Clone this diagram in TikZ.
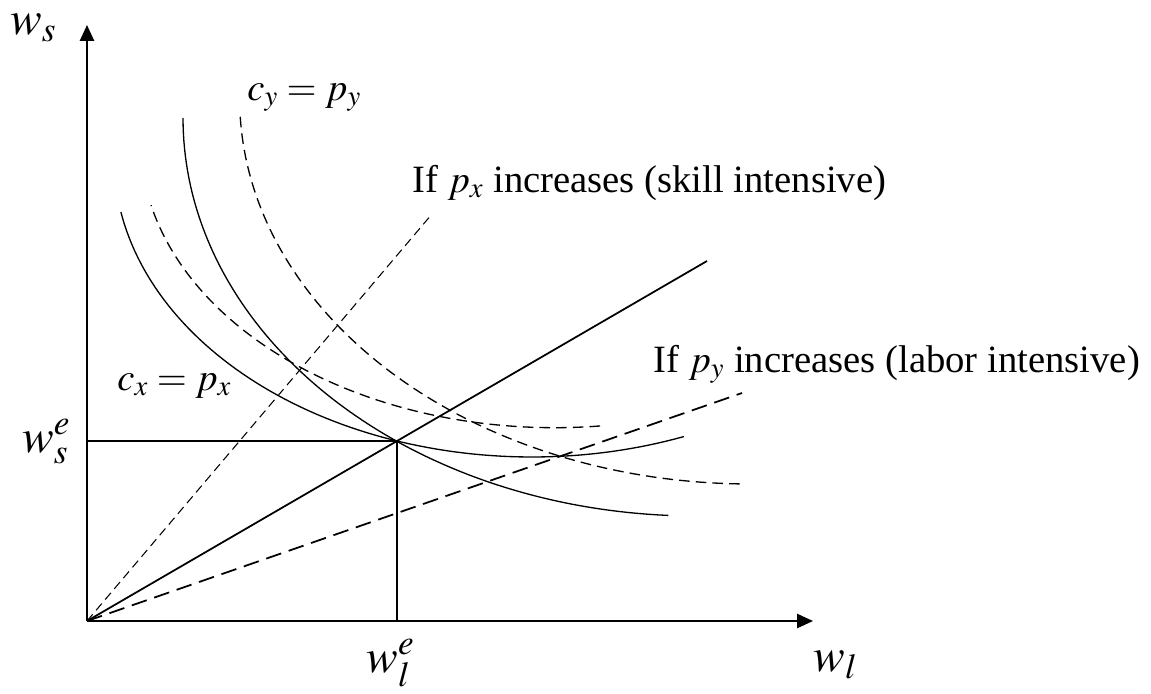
\documentclass[tikz,border=0pt]{standalone}
\usepackage{mathptmx}
\usepackage{fontspec}
\setmainfont{Liberation Serif}
\usetikzlibrary{arrows.meta}

\begin{document}
\begin{tikzpicture}[x=0.02cm, y=-0.02cm,
  axis/.style={line width=1.1pt, -{Triangle[length=9pt, width=8pt]}},
  guide/.style={line width=0.9pt},
  curve/.style={line width=0.75pt},
  shifted/.style={line width=0.75pt, dash pattern=on 6pt off 3.5pt},
  ray/.style={line width=1pt},
  skillray/.style={line width=0.6pt, dash pattern=on 5pt off 3pt},
  laborray/.style={line width=1pt, dash pattern=on 9pt off 4.5pt},
  axlabel/.style={font=\fontsize{27}{31}\selectfont, inner sep=0pt, anchor=base west,
                  text height=1.3ex, text depth=0.2ex},
  curvelabel/.style={font=\fontsize{22}{26}\selectfont, inner sep=0pt, anchor=base west},
  note/.style={font=\fontsize{22}{26}\selectfont, inner sep=0pt, anchor=base west}
]
  \useasboundingbox (0,0) rectangle (1151,693);

  % axes and equilibrium
  \coordinate (O)    at (87,621);
  \coordinate (ytop) at (87,25);
  \coordinate (xend) at (813,621);
  \coordinate (E)    at (397,441);
  \coordinate (Ey)   at (87,441);
  \coordinate (Ex)   at (397,621);
  \coordinate (rayend)   at (707,261);
  \coordinate (skillend) at (432,214);
  \coordinate (laborend) at (742,393);

  \draw[axis] (O) -- (ytop);
  \draw[axis] (O) -- (xend);
  \draw[guide] (Ey) -- (E) -- (Ex);

  % factor intensity rays
  \draw[ray] (O) -- (rayend);
  \draw[skillray] (O) -- (skillend);
  \draw[laborray] (O) -- (laborend);

  % unit cost curves (elliptic arcs: centre, radii)
  \draw[curve] plot[domain=68.7:169.6, samples=80, variable=\t]
    ({532+418*cos(\t)}, {158+299*sin(\t)});
  \draw[curve] plot[domain=93.1:180, samples=80, variable=\t]
    ({696+513*cos(\t)}, {118+398*sin(\t)});
  \draw[shifted] plot[domain=83.7:167.1, samples=80, variable=\t]
    ({554.6+414*cos(\t)}, {141.2+286.5*sin(\t)});
  \draw[shifted] plot[domain=91.2:177.6, samples=80, variable=\t]
    ({750.3+510.7*cos(\t)}, {98.1+385.9*sin(\t)});

  % labels
  \node[axlabel] (ws)  at (10,34)   {$w_s$};
  \node[axlabel] (wse) at (22,452)  {$w_s^e$};
  \node[axlabel] (wle) at (366,672) {$w_l^e$};
  \node[axlabel] (wl)  at (813,671) {$w_l$};
  \node[curvelabel] (cy) at (247,100) {$c_y = p_y$};
  \node[curvelabel] (cx) at (117,390) {$c_x = p_x$};
  \node[note] (skill) at (412,192) {If $p_x$ increases (skill intensive)};
  \node[note] (labor) at (653,372) {If $p_y$ increases (labor intensive)};
\end{tikzpicture}
\end{document}
